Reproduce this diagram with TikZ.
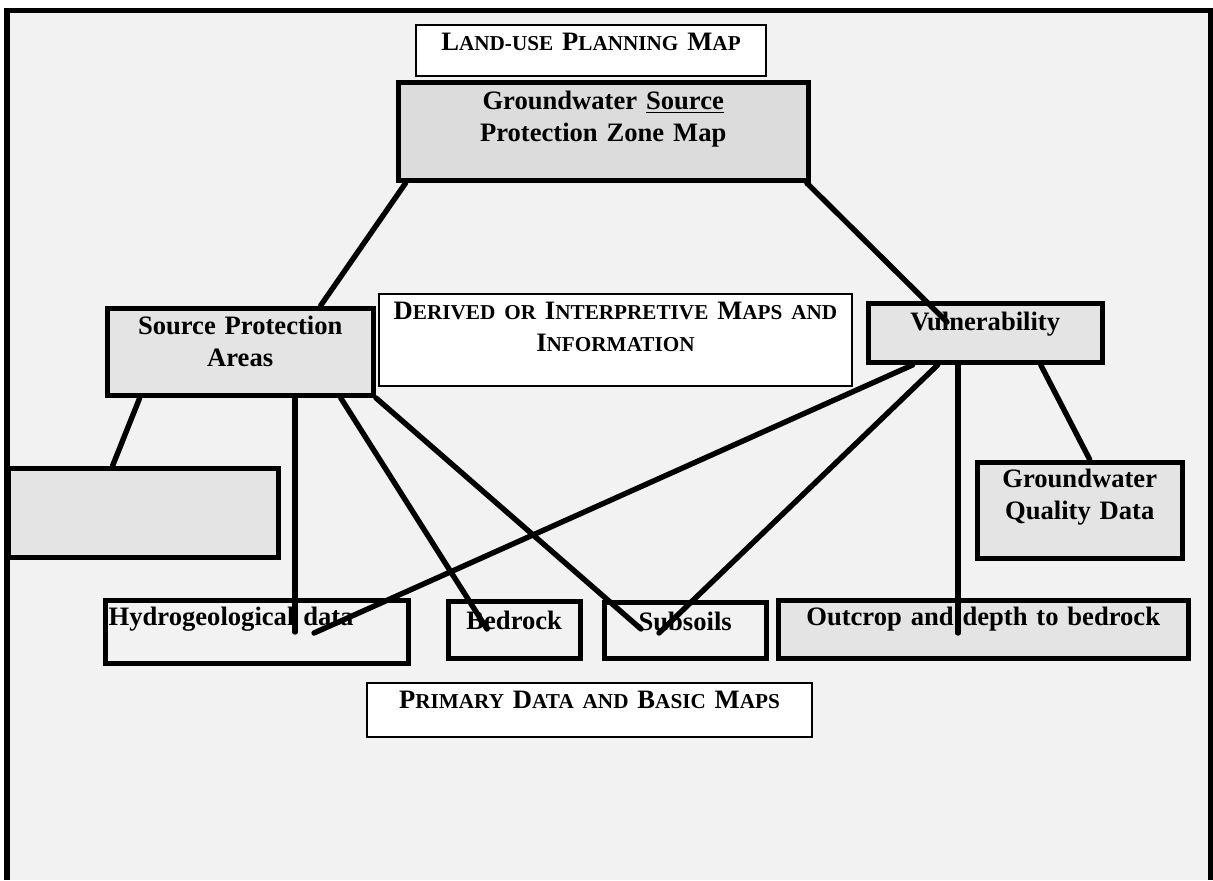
\documentclass[tikz,border=0pt]{standalone}
\usepackage{fontspec}
\setmainfont{Liberation Serif}
\usepackage{xcolor}
\usepackage{tikz}

\definecolor{pagebg}{HTML}{F2F2F2}
\definecolor{darkbox}{HTML}{DCDCDC}
\definecolor{greybox}{HTML}{E4E4E4}
\newcommand\lowcaps[1]{{\fontsize{10.6}{16}\selectfont #1}}

\begin{document}
\begin{tikzpicture}[
  x=0.5pt, y=-0.5pt,
  font=\bfseries\fontsize{13.3}{16}\selectfont,
  heavy/.style={rectangle, draw=black, line width=2.7pt, inner sep=0pt,
                anchor=north west, align=center},
  light/.style={rectangle, draw=black, line width=1pt, fill=white,
                inner sep=0pt, anchor=north west, align=center},
  link/.style={line width=2.7pt, line cap=round}]

\useasboundingbox (0,0) rectangle (1213,880);
\fill[white] (0,0) rectangle (1213,880);
\fill[pagebg] (7,10.5) rectangle (1210.5,880);
\draw[line width=2.8pt] (7,880) -- (7,10.5) -- (1210.5,10.5) -- (1210.5,880);

\node[light, text width=175pt, text height=12.5pt, text depth=13pt]
  (landuse) at (415,24) {L\lowcaps{AND-USE} P\lowcaps{LANNING} M\lowcaps{AP}};
\node[heavy, fill=darkbox, text width=205pt, text height=13.75pt, text depth=35.25pt]
  (gspz) at (395.5,79.5) {Groundwater \underline{Source}\\Protection Zone Map};

\node[heavy, fill=greybox, text width=133pt, text height=13.25pt, text depth=30.25pt]
  (spa) at (104.5,305.5) {Source Protection\\Areas};
\node[light, text width=236.5pt, text height=12.5pt, text depth=33.5pt]
  (derived) at (378,293)
  {D\lowcaps{ERIVED OR} I\lowcaps{NTERPRETIVE} M\lowcaps{APS AND}\\I\lowcaps{NFORMATION}};
\node[heavy, fill=greybox, text width=117pt, text height=13.75pt, text depth=15.75pt]
  (vul) at (865.5,300.5) {Vulnerability};

\node[heavy, fill=greybox, minimum width=135pt, minimum height=44.5pt]
  (blank) at (5.5,465.5) {};
\node[heavy, fill=greybox, text width=102.5pt, text height=12.75pt, text depth=35.25pt]
  (gqd) at (974.5,459.5) {Groundwater\\Quality Data};

\node[heavy, align=left, inner xsep=1.5pt, text width=148.5pt, text height=12.75pt,
  text depth=18.75pt] (hydro) at (103,597.5) {Hydrogeological data};
\node[heavy, text width=66pt, text height=14.25pt, text depth=14.25pt]
  (bedrock) at (445.5,598.5) {Bedrock};
\node[heavy, text width=81pt, text height=14.25pt, text depth=13.75pt]
  (subsoils) at (601.5,599.5) {Subsoils};
\node[heavy, fill=greybox, text width=205pt, text height=12.75pt, text depth=16.25pt]
  (outcrop) at (775.5,597.5) {Outcrop and depth to bedrock};

\node[light, text width=222.5pt, text height=12.5pt, text depth=14.5pt]
  (primary) at (366,682) {P\lowcaps{RIMARY} D\lowcaps{ATA AND} B\lowcaps{ASIC} M\lowcaps{APS}};

\coordinate (vulA) at (947,322);
\coordinate (hydA) at (295,632);
\coordinate (hydB) at (314,633);
\coordinate (bedA) at (487,629);
\coordinate (subA) at (641,629);
\coordinate (subB) at (659,633);
\coordinate (outA) at (958,633);

\draw[link] ([xshift=-98.75pt]gspz.south) -- ([xshift=40.25pt]spa.north);
\draw[link] ([xshift=101.75pt]gspz.south) -- (vulA);
\draw[link] ([xshift=-50.25pt]spa.south) -- ([xshift=-15.25pt]blank.north);
\draw[link] (hydA |- spa.south) -- (hydA);
\draw[link] ([xshift=50.25pt]spa.south) -- (bedA);
\draw[link] (spa.south east) -- (subA);
\draw[link] ([xshift=-36.25pt]vul.south) -- (hydB);
\draw[link] ([xshift=-23.75pt]vul.south) -- (subB);
\draw[link] (outA |- vul.south) -- (outA);
\draw[link] ([xshift=27.75pt]vul.south) -- ([xshift=5pt]gqd.north);
\end{tikzpicture}
\end{document}
